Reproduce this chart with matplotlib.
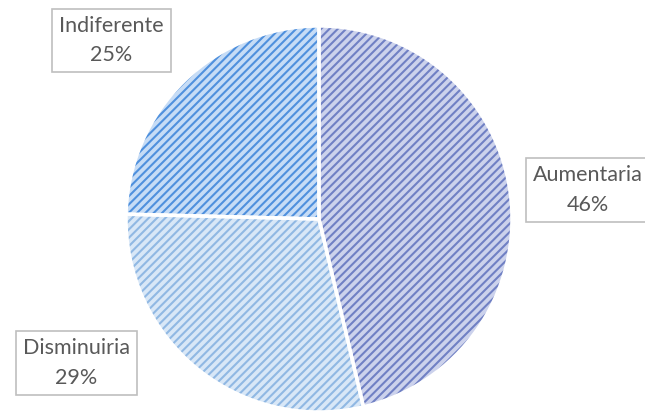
import matplotlib.pyplot as plt

categorias = ['Aumentaria', 'Disminuiria', 'Indiferente']
valores = [46.3, 29.1, 24.6]
porcentajes = ['46%', '29%', '25%']

cores_fundo = ['#ccd2ec', '#d8e7f7', '#c6dcf6']
cores_linha = ['#7080c4', '#90b8e3', '#4f90dd']

plt.rcParams['hatch.linewidth'] = 1.5

fig = plt.figure(figsize=(6.45, 4.13), dpi=100)
ax = fig.add_axes([0, 0, 1, 1])

centro = (319, 194)
raio = 193

fatias, _ = ax.pie(valores, startangle=90, counterclock=False,
                   center=centro, radius=raio,
                   colors=cores_fundo)
for f, cl in zip(fatias, cores_linha):
    f.set_hatch('////')
    f.set_edgecolor(cl)
    f.set_linewidth(0)

# bordas brancas por cima
ax.pie(valores, startangle=90, counterclock=False,
       center=centro, radius=raio,
       colors=['none'] * 3,
       wedgeprops=dict(edgecolor='white', linewidth=2.5, fill=False))

# o pie mexe nos limites, entao define depois
ax.set_xlim(0, 645)
ax.set_ylim(0, 413)
ax.set_aspect('equal')
ax.axis('off')

posicoes = [(588, 223), (76.5, 50), (111.5, 372.5)]
for cat, pct, (x, y) in zip(categorias, porcentajes, posicoes):
    ax.text(x, y, cat + '\n' + pct, ha='center', va='center',
            fontsize=15.5, color='#595959', family='Lato',
            linespacing=1.6,
            bbox=dict(boxstyle='square,pad=0.33', facecolor='white',
                      edgecolor='#bfbfbf', linewidth=1.2))

fig.savefig('out.png', dpi=100)
